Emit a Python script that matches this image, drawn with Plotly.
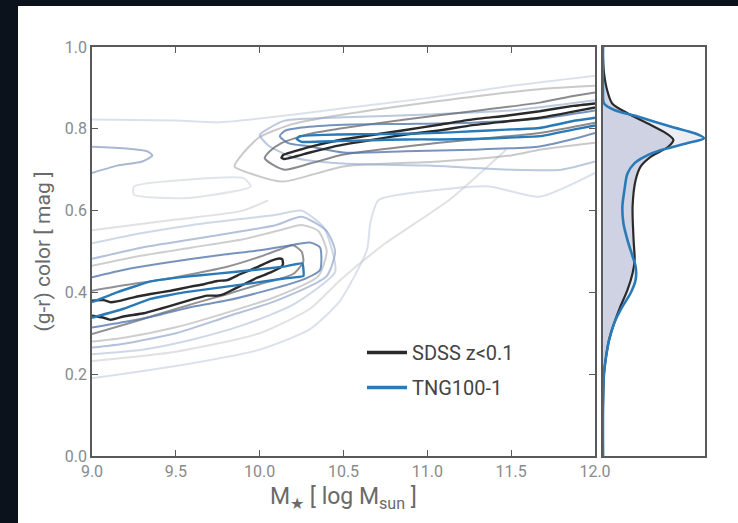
import plotly.graph_objects as go

# ---------------- data ----------------
x_ticks = [9.0, 9.5, 10.0, 10.5, 11.0, 11.5, 12.0]
y_ticks = [0.0, 0.2, 0.4, 0.6, 0.8, 1.0]
series_names = ["SDSS z<0.1", "TNG100-1"]

# Red-sequence contours (open at right edge): x list, y list
rs_sdss_1_x = [12.0, 11.87, 11.67, 11.47, 11.27, 11.07, 10.87, 10.67, 10.47, 10.3, 10.2, 10.14, 10.13, 10.15, 10.3, 10.47, 10.67, 10.87, 11.07, 11.27, 11.47, 11.67, 11.87, 12.0]
rs_sdss_1_y = [0.862, 0.856, 0.843, 0.832, 0.823, 0.81, 0.797, 0.785, 0.772, 0.756, 0.744, 0.736, 0.729, 0.726, 0.742, 0.759, 0.773, 0.786, 0.796, 0.809, 0.818, 0.827, 0.842, 0.852]
rs_tng_1_x = [12.0, 11.87, 11.67, 11.47, 11.27, 11.07, 10.87, 10.67, 10.47, 10.3, 10.24, 10.22, 10.25, 10.47, 10.67, 10.87, 11.07, 11.27, 11.47, 11.67, 11.87, 12.0]
rs_tng_1_y = [0.827, 0.819, 0.802, 0.798, 0.794, 0.79, 0.788, 0.787, 0.786, 0.784, 0.782, 0.775, 0.768, 0.770, 0.772, 0.774, 0.774, 0.775, 0.778, 0.782, 0.798, 0.808]
rs_sdss_2_x = [12.0, 11.87, 11.67, 11.27, 10.87, 10.47, 10.3, 10.13, 10.06, 10.03, 10.08, 10.15, 10.3, 10.5, 10.87, 11.27, 11.67, 12.0]
rs_sdss_2_y = [0.889, 0.88, 0.864, 0.843, 0.823, 0.80, 0.788, 0.765, 0.745, 0.728, 0.712, 0.70, 0.715, 0.737, 0.757, 0.774, 0.79, 0.815]
rs_tng_2_x = [12.0, 11.67, 11.27, 10.87, 10.5, 10.25, 10.15, 10.12, 10.17, 10.3, 10.5, 10.87, 11.27, 11.67, 11.87, 12.0]
rs_tng_2_y = [0.845, 0.825, 0.815, 0.812, 0.81, 0.803, 0.795, 0.782, 0.765, 0.757, 0.742, 0.745, 0.749, 0.757, 0.775, 0.79]
rs_sdss_3_x = [12.0, 11.67, 11.07, 10.5, 10.2, 10.0, 9.9, 9.85, 9.95, 10.14, 10.5, 11.07, 11.5, 11.67, 12.0]
rs_sdss_3_y = [0.905, 0.897, 0.868, 0.835, 0.812, 0.78, 0.74, 0.708, 0.69, 0.671, 0.708, 0.72, 0.735, 0.749, 0.766]
rs_tng_3_x = [12.0, 11.5, 11.0, 10.5, 10.15, 10.05, 10.0, 10.05, 10.2, 10.5, 11.0, 11.5, 11.8, 12.0]
rs_tng_3_y = [0.87, 0.845, 0.835, 0.828, 0.82, 0.80, 0.785, 0.76, 0.73, 0.715, 0.71, 0.70, 0.70, 0.72]

# Blue-cloud contours (clipped at left edge)
bc_sdss_1_x = [9.0, 9.07, 9.11, 9.149, 9.249, 9.349, 9.468, 9.588, 9.667, 9.747, 9.807, 9.886, 9.986, 10.066, 10.116, 10.135, 10.139, 10.125, 10.066, 9.986, 9.906, 9.847, 9.787, 9.747, 9.687, 9.608, 9.508, 9.408, 9.309, 9.189, 9.11, 9.07, 9.03, 9.0]
bc_sdss_1_y = [0.380, 0.381, 0.376, 0.378, 0.388, 0.396, 0.404, 0.414, 0.420, 0.428, 0.430, 0.445, 0.462, 0.477, 0.483, 0.481, 0.469, 0.461, 0.449, 0.436, 0.420, 0.408, 0.396, 0.392, 0.392, 0.384, 0.372, 0.360, 0.349, 0.341, 0.333, 0.338, 0.341, 0.343]
bc_tng_1_x = [9.0, 9.149, 9.349, 9.548, 9.747, 9.946, 10.145, 10.255, 10.261, 10.145, 9.946, 9.747, 9.548, 9.349, 9.189, 9.0]
bc_tng_1_y = [0.376, 0.40, 0.427, 0.438, 0.446, 0.454, 0.463, 0.471, 0.440, 0.434, 0.422, 0.411, 0.400, 0.384, 0.360, 0.338]
bc_sdss_2_x = [9.0, 9.2, 9.4, 9.6, 9.8, 10.0, 10.12, 10.2, 10.25, 10.26, 10.2, 10.0, 9.8, 9.6, 9.4, 9.2, 9.0]
bc_sdss_2_y = [0.404, 0.418, 0.43, 0.445, 0.462, 0.487, 0.505, 0.515, 0.50, 0.475, 0.445, 0.42, 0.395, 0.372, 0.347, 0.322, 0.298]
bc_tng_2_x = [9.0, 9.2, 9.4, 9.6, 9.8, 10.0, 10.15, 10.3, 10.36, 10.36, 10.25, 10.0, 9.8, 9.6, 9.4, 9.2, 9.0]
bc_tng_2_y = [0.437, 0.456, 0.47, 0.482, 0.493, 0.503, 0.513, 0.522, 0.51, 0.455, 0.43, 0.40, 0.38, 0.365, 0.345, 0.328, 0.314]
bc_sdss_3_x = [9.0, 9.3, 9.6, 9.9, 10.1, 10.25, 10.35, 10.4, 10.35, 10.1, 9.8, 9.5, 9.2, 9.0]
bc_sdss_3_y = [0.465, 0.49, 0.51, 0.53, 0.55, 0.565, 0.55, 0.50, 0.44, 0.39, 0.35, 0.315, 0.29, 0.28]
bc_tng_3_x = [9.0, 9.3, 9.6, 9.9, 10.1, 10.25, 10.4, 10.45, 10.4, 10.1, 9.8, 9.5, 9.2, 9.0]
bc_tng_3_y = [0.482, 0.51, 0.53, 0.55, 0.565, 0.585, 0.55, 0.50, 0.44, 0.38, 0.34, 0.30, 0.275, 0.265]
bc_tng_4_x = [9.0, 9.3, 9.6, 9.9, 10.1, 10.25, 10.38, 10.42, 10.45, 10.2, 9.9, 9.6, 9.3, 9.0]
bc_tng_4_y = [0.52, 0.545, 0.565, 0.58, 0.59, 0.60, 0.56, 0.52, 0.45, 0.37, 0.32, 0.285, 0.26, 0.249]

# Faint outermost contours
out_tng_x = [9.0, 9.5, 9.75, 10.0, 10.5, 11.0, 11.5, 12.0]
out_tng_y = [0.823, 0.82, 0.816, 0.825, 0.85, 0.875, 0.905, 0.93]
out_tng_low_x = [12.0, 11.67, 11.37, 11.07, 10.71, 10.66, 10.64, 10.48, 10.3, 10.0, 9.5, 9.0]
out_tng_low_y = [0.692, 0.634, 0.659, 0.651, 0.626, 0.57, 0.504, 0.38, 0.31, 0.26, 0.22, 0.19]
out_sdss_low_x = [11.47, 11.13, 10.75, 10.48, 10.3, 10.0, 9.5, 9.0]
out_sdss_low_y = [0.749, 0.626, 0.52, 0.43, 0.36, 0.30, 0.255, 0.232]
out_sdss_up_x = [9.0, 9.5, 9.9, 10.05]
out_sdss_up_y = [0.552, 0.578, 0.60, 0.625]
lobe_left_x = [9.0, 9.2, 9.33, 9.36, 9.3, 9.15, 9.0]
lobe_left_y = [0.756, 0.752, 0.745, 0.735, 0.72, 0.71, 0.692]
lobe_valley_x = [9.25, 9.548, 9.906, 9.946, 9.647, 9.508, 9.25, 9.25]
lobe_valley_y = [0.659, 0.675, 0.679, 0.659, 0.634, 0.63, 0.639, 0.659]

# Marginal color distributions (density vs color)
marg_sdss_y = [1.0, 0.976, 0.936, 0.895, 0.862, 0.838, 0.813, 0.789, 0.773, 0.756, 0.732, 0.708, 0.675, 0.61, 0.528, 0.48, 0.447, 0.406, 0.365, 0.325, 0.284, 0.243, 0.202, 0.12, 0.0]
marg_sdss_d = [0.0, 0.0, 0.01, 0.04, 0.09, 0.24, 0.44, 0.62, 0.69, 0.64, 0.47, 0.37, 0.32, 0.29, 0.30, 0.31, 0.29, 0.24, 0.17, 0.11, 0.06, 0.03, 0.01, 0.0, 0.0]
marg_tng_y = [1.0, 0.895, 0.862, 0.846, 0.83, 0.805, 0.789, 0.777, 0.765, 0.748, 0.732, 0.716, 0.691, 0.65, 0.61, 0.569, 0.528, 0.488, 0.463, 0.431, 0.398, 0.365, 0.325, 0.284, 0.243, 0.202, 0.12, 0.0]
marg_tng_d = [0.0, 0.0, 0.01, 0.11, 0.34, 0.67, 0.90, 0.99, 0.83, 0.57, 0.41, 0.31, 0.24, 0.21, 0.19, 0.20, 0.24, 0.29, 0.32, 0.32, 0.27, 0.19, 0.11, 0.06, 0.03, 0.01, 0.0, 0.0]

# ---------------- styling ----------------
BLACK = "#2a2a2a"
BLUE = "#2a7ab8"
FONT = "Roboto"

fig = go.Figure()

def contour(xs, ys, color, width=2.0, smooth=0.6):
    fig.add_trace(go.Scatter(x=xs, y=ys, mode="lines", showlegend=False, hoverinfo="skip",
                             line=dict(color=color, width=width, shape="spline", smoothing=smooth),
                             xaxis="x", yaxis="y"))

# faint outermost
contour(out_tng_x, out_tng_y, "rgba(190,200,220,0.55)")
contour(out_tng_low_x, out_tng_low_y, "rgba(190,200,220,0.55)")
contour(out_sdss_low_x, out_sdss_low_y, "rgba(200,200,205,0.55)")
contour(out_sdss_up_x, out_sdss_up_y, "rgba(200,200,205,0.55)")
contour(lobe_valley_x, lobe_valley_y, "rgba(200,205,215,0.55)")
contour(lobe_left_x, lobe_left_y, "rgba(140,160,195,0.75)")
contour(bc_tng_4_x, bc_tng_4_y, "rgba(175,190,215,0.6)")
# level 3
contour(rs_sdss_3_x, rs_sdss_3_y, "rgba(165,165,170,0.6)")
contour(rs_tng_3_x, rs_tng_3_y, "rgba(150,170,205,0.65)")
contour(bc_sdss_3_x, bc_sdss_3_y, "rgba(165,165,170,0.55)")
contour(bc_tng_3_x, bc_tng_3_y, "rgba(140,160,200,0.65)")
# level 2
contour(rs_sdss_2_x, rs_sdss_2_y, "rgba(110,110,115,0.8)")
contour(rs_tng_2_x, rs_tng_2_y, "rgba(85,120,170,0.8)")
contour(bc_sdss_2_x, bc_sdss_2_y, "rgba(110,110,115,0.75)")
contour(bc_tng_2_x, bc_tng_2_y, "rgba(85,120,170,0.8)")
# level 1
contour(rs_sdss_1_x, rs_sdss_1_y, BLACK, 2.4, 0.4)
contour(rs_tng_1_x, rs_tng_1_y, BLUE, 2.4, 0.4)
contour(bc_sdss_1_x, bc_sdss_1_y, BLACK, 2.4, 0.4)
contour(bc_tng_1_x, bc_tng_1_y, BLUE, 2.4, 0.3)

# legend entries
fig.add_trace(go.Scatter(x=[None], y=[None], mode="lines", name=series_names[0],
                         line=dict(color=BLACK, width=3.5), xaxis="x", yaxis="y", legendgroup="a"))
fig.add_trace(go.Scatter(x=[None], y=[None], mode="lines", name=series_names[1],
                         line=dict(color=BLUE, width=3.5), xaxis="x", yaxis="y", legendgroup="b"))

# marginal panel
fig.add_trace(go.Scatter(x=marg_tng_d, y=marg_tng_y, mode="lines", fill="tozerox",
                         fillcolor="rgba(215,218,232,0.45)", line=dict(width=0),
                         showlegend=False, hoverinfo="skip", xaxis="x2", yaxis="y2"))
fig.add_trace(go.Scatter(x=marg_sdss_d, y=marg_sdss_y, mode="lines", fill="tozerox",
                         fillcolor="rgba(200,204,222,0.85)",
                         line=dict(color=BLACK, width=2.2, shape="spline", smoothing=0.8),
                         showlegend=False, hoverinfo="skip", xaxis="x2", yaxis="y2"))
fig.add_trace(go.Scatter(x=marg_tng_d, y=marg_tng_y, mode="lines",
                         line=dict(color=BLUE, width=2.6, shape="spline", smoothing=0.8),
                         showlegend=False, hoverinfo="skip", xaxis="x2", yaxis="y2"))

W, H = 738, 523
xd = [92 / W, 595 / W]
xd2 = [603 / W, 705 / W]
yd = [(H - 456) / H, (H - 47) / H]

axis_common = dict(showgrid=False, zeroline=False, showline=True, mirror="ticks",
                   linecolor="#5a5a5a", linewidth=1.5, ticks="inside", ticklen=6,
                   tickwidth=1.2, tickcolor="#5a5a5a", automargin=False,
                   tickfont=dict(family=FONT, size=16, color="#8a8a8a"))

fig.update_layout(
    width=W, height=H, autosize=False,
    margin=dict(l=0, r=0, t=0, b=0, pad=0, autoexpand=False),
    paper_bgcolor="#0c121c",
    plot_bgcolor="white",
    font=dict(family=FONT),
    xaxis=dict(domain=xd, range=[9.0, 12.0], tickvals=x_ticks,
               ticktext=[f"{v:.1f}" for v in x_ticks], anchor="y",
               title=dict(text="M<sub>★</sub> [ log M<sub>sun</sub> ]",
                          font=dict(family=FONT, size=23, color="#6a6a6a"), standoff=8),
               **axis_common),
    yaxis=dict(domain=yd, range=[0.0, 1.0], tickvals=y_ticks,
               ticktext=[f"{v:.1f}" for v in y_ticks], anchor="x",
               title=dict(text="(g-r) color [ mag ]",
                          font=dict(family=FONT, size=21, color="#6a6a6a"), standoff=8),
               **axis_common),
    xaxis2=dict(domain=xd2, range=[0.0, 1.0], anchor="y2", showgrid=False, zeroline=False,
                showline=True, mirror=True, linecolor="#5a5a5a", linewidth=1.5,
                showticklabels=False, ticks="", automargin=False),
    yaxis2=dict(domain=yd, range=[0.0, 1.0], anchor="x2", showgrid=False, zeroline=False,
                showline=True, mirror=True, linecolor="#5a5a5a", linewidth=1.5,
                showticklabels=False, ticks="", automargin=False),
    legend=dict(x=362 / W, y=1 - 333 / H, xanchor="left", yanchor="top",
                bgcolor="rgba(0,0,0,0)", font=dict(family=FONT, size=20, color="#444444"),
                tracegroupgap=6, itemwidth=40),
    shapes=[dict(type="rect", xref="paper", yref="paper", x0=18 / W, x1=1.0,
                 y0=0.0, y1=1 - 6 / H, fillcolor="white", line=dict(width=0), layer="below")],
)

fig.write_html("out.html", config={"responsive": False},
               default_width="738px", default_height="523px",
               post_script="document.body.style.margin='0';document.body.style.overflow='hidden';")
